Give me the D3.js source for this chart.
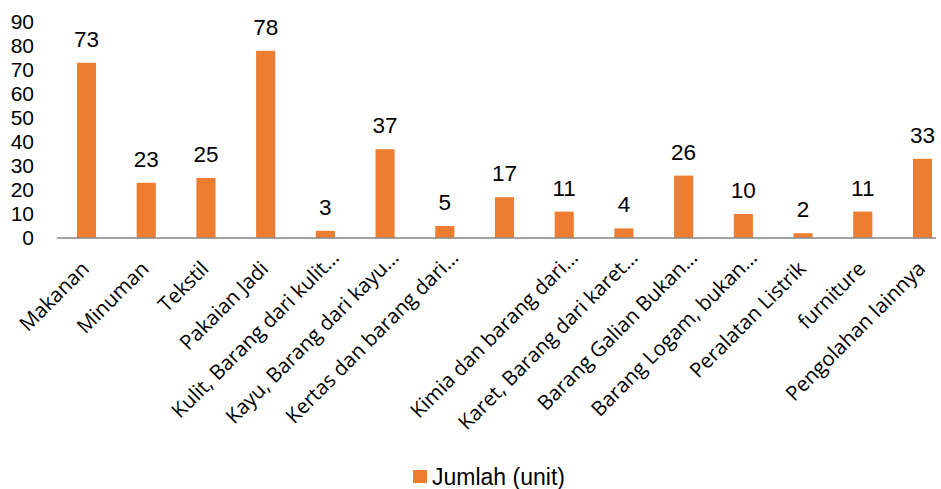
<!DOCTYPE html>
<html><head><meta charset="utf-8">
<script src="https://cdn.jsdelivr.net/npm/d3@7"></script>
<style>body{margin:0;background:#fff}svg{display:block}</style>
</head><body>
<svg id="c" width="941" height="489"></svg>
<script>
const categories = ["Makanan","Minuman","Tekstil","Pakaian Jadi","Kulit, Barang dari kulit…","Kayu, Barang dari kayu…","Kertas dan barang dari…","","Kimia dan barang dari…","Karet, Barang dari karet…","Barang Galian Bukan…","Barang Logam, bukan…","Peralatan Listrik","furniture","Pengolahan lainnya"];
const values = [73,23,25,78,3,37,5,17,11,4,26,10,2,11,33];
const yTicks = [0,10,20,30,40,50,60,70,80,90];
const seriesName = "Jumlah (unit)";

const svg = d3.select("#c");
const x = d3.scaleBand().domain(d3.range(categories.length)).range([56.65,952.35]).paddingInner(0.68).paddingOuter(0.34);
const y = d3.scaleLinear().domain([0,90]).range([238,22]);
const color = "#ED7D31";
const cx = i => x(i) + x.bandwidth()/2;

svg.append("g").selectAll("text").data(yTicks).join("text")
  .attr("x",34).attr("y",d=>y(d)).attr("dy","0.35em").attr("text-anchor","end")
  .attr("font-family","Liberation Sans, Arial, sans-serif").attr("font-size",21).attr("fill","#000")
  .text(d=>d);

svg.append("g").selectAll("rect").data(values).join("rect")
  .attr("x",(d,i)=>x(i)).attr("width",x.bandwidth())
  .attr("y",d=>y(d)).attr("height",d=>y(0)-y(d)).attr("fill",color);

svg.append("line").attr("x1",57).attr("x2",936).attr("y1",y(0)).attr("y2",y(0))
  .attr("stroke","#868686").attr("stroke-width",1.5);

svg.append("g").selectAll("text").data(values).join("text")
  .attr("x",(d,i)=>cx(i)).attr("y",d=>y(d)-16).attr("text-anchor","middle")
  .attr("font-family","Liberation Sans, Arial, sans-serif").attr("font-size",22.5).attr("fill","#000")
  .text(d=>d);

svg.append("g").selectAll("text").data(categories).join("text")
  .attr("transform",(d,i)=>{
    const s = d.endsWith("…") ? 11 : 0;
    return `translate(${cx(i)+4+s},${270-s}) rotate(-45)`;
  })
  .attr("text-anchor","end")
  .attr("font-family","Open Sans, sans-serif").attr("font-size",20.5).attr("fill","#000")
  .text(d=>d);

const lg = svg.append("g");
lg.append("rect").attr("x",413).attr("y",470).attr("width",14).attr("height",13).attr("fill",color);
lg.append("text").attr("x",432).attr("y",477).attr("dy","0.35em")
  .attr("font-family","Liberation Sans, Arial, sans-serif").attr("font-size",23).attr("fill","#000").text(seriesName);
</script>
</body></html>
